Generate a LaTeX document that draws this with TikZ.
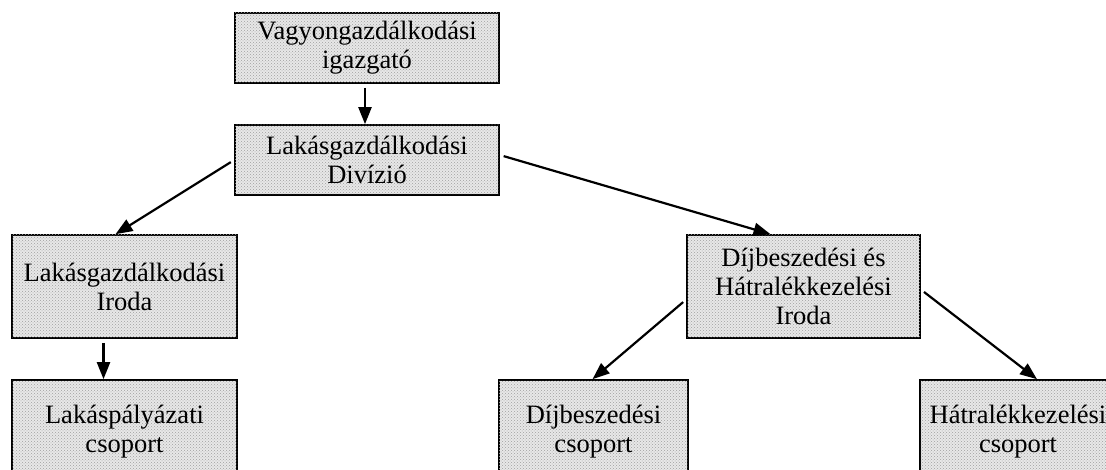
\documentclass[tikz,border=0pt]{standalone}
\usepackage{fontspec}
\setmainfont{Liberation Serif}
\usepackage{tikz}
\usetikzlibrary{
    arrows.meta,
    patterns,
    calc,
    positioning,
}

\begin{document}
\begin{tikzpicture}[x=1pt,y=-1pt,>={Triangle[length=17pt,width=13pt]}]

    \tikzstyle{commonNode}=[font=\fontsize{26.5}{29}\selectfont, align=center, line width=1.6pt, draw=black, inner sep=0pt]
    \tikzstyle{unit}=[commonNode, rectangle, fill=gray!18, postaction={pattern=crosshatch dots, pattern color=gray!75}]
    \tikzstyle{topUnit}=[unit, minimum width=264pt, minimum height=70pt]
    \tikzstyle{office}=[unit, minimum height=103pt]
    \tikzstyle{link}=[->, line width=2.2pt, shorten <=4pt]

    % Frame of the page
    \useasboundingbox (0,0) rectangle (1106,470);
    \clip (0,0) rectangle (1106,470);

    % Spacing of the rows
    \def \rowA {48}
    \def \rowB {160}
    \def \rowC {286.5}
    \def \rowD {431.5}

    % Units
    \node at (367, \rowA)   [topUnit]                      (VI)  {Vagyongazdálkodási \\ igazgató};
    \node at (367, \rowB)   [topUnit]                      (LD)  {Lakásgazdálkodási \\ Divízió};
    \node at (124.5, \rowC) [office, minimum width=225pt]  (LI)  {Lakásgazdálkodási \\ Iroda};
    \node at (803.5, \rowC) [office, minimum width=233pt]  (DHI) {Díjbeszedési és \\ Hátralékkezelési \\ Iroda};
    \node at (124.5, \rowD) [office, minimum width=225pt]  (LP)  {Lakáspályázati \\ csoport};
    \node at (593.5, \rowD) [office, minimum width=189pt]  (DC)  {Díjbeszedési \\ csoport};
    \node at (1018, \rowD)  [office, minimum width=196pt]  (HC)  {Hátralékkezelési \\ csoport};

    % Connections
    \draw [link] ([xshift=-2pt]VI.south) -- ([xshift=-2pt]LD.north);
    \draw [link] (LD.west) -- ([xshift=-9pt]LI.north);
    \draw [link] ([yshift=5pt]LD.east) -- ([xshift=-33pt]DHI.north);
    \draw [link] ([xshift=-21pt]LI.south) -- ([xshift=-21pt]LP.north);
    \draw [link] ([yshift=-13pt]DHI.west) -- ([xshift=-1pt]DC.north);
    \draw [link] ([yshift=-3pt]DHI.east) -- ([xshift=19pt]HC.north);

\end{tikzpicture}
\end{document}
